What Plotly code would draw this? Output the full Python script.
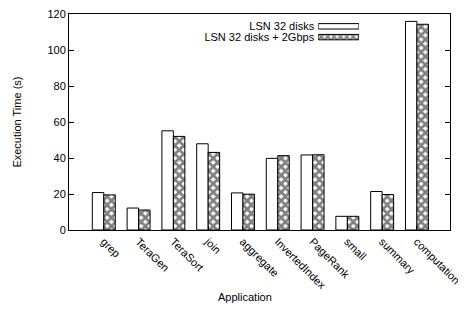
import plotly.graph_objects as go

apps = ["grep", "TeraGen", "TeraSort", "join", "aggregate", "InvertedIndex",
        "PageRank", "small", "summary", "computation"]
lsn32 = [20.8, 12.2, 55.1, 47.9, 20.6, 39.8, 41.7, 7.6, 21.4, 115.9]
lsn32_2g = [19.5, 11.1, 52.0, 43.1, 19.9, 41.3, 41.8, 7.6, 19.7, 114.3]
series_names = ["LSN 32 disks", "LSN 32 disks + 2Gbps"]
yticks = [0, 20, 40, 60, 80, 100, 120]

font = dict(family="Liberation Sans, Arial, sans-serif", size=11, color="black")
hatch = dict(shape="x", fgcolor="black", bgcolor="white", size=6, solidity=0.7)

fig = go.Figure()
fig.add_trace(go.Bar(x=apps, y=lsn32, name=series_names[0], showlegend=False,
                     marker=dict(color="white", line=dict(color="black", width=1))))
fig.add_trace(go.Bar(x=apps, y=lsn32_2g, name=series_names[1], showlegend=False,
                     marker=dict(color="white", line=dict(color="black", width=1),
                                 pattern=hatch)))

# legend drawn as a tiny horizontal bar chart: labels left, swatches right
fig.add_trace(go.Bar(y=series_names, x=[1, 1], orientation="h", width=0.5,
                     xaxis="x2", yaxis="y2", showlegend=False, hoverinfo="skip",
                     marker=dict(color="white", line=dict(color="black", width=1),
                                 pattern=dict(shape=["", "x"], fgcolor="black",
                                              bgcolor="white", size=4.5, solidity=0.7))))

fig.update_layout(
    width=466, height=332,
    margin=dict(l=61, r=24, t=6, b=110),
    paper_bgcolor="white", plot_bgcolor="white",
    font=font,
    barmode="group", bargap=0.34, bargroupgap=0,
    xaxis=dict(range=[-1.0, 9.95], tickangle=45, showline=True, linecolor="black",
               linewidth=1, mirror=True, ticks="inside", ticklen=4, tickcolor="black",
               showgrid=False, automargin=False, tickfont=font),
    yaxis=dict(range=[0, 120], tickvals=yticks, showline=True, linecolor="black",
               linewidth=1, mirror="ticks", ticks="inside", ticklen=5, tickcolor="black",
               showgrid=False, zeroline=False, automargin=False, tickfont=font,
               ticklabeloverflow="allow"),
    xaxis2=dict(domain=[0.654, 0.761], range=[0, 1], anchor="y2", showline=False,
                showgrid=False, zeroline=False, showticklabels=False, fixedrange=True),
    yaxis2=dict(domain=[0.868, 0.968], range=[1.5, -0.5], anchor="x2", type="category",
                tickmode="array", tickvals=series_names, ticktext=series_names,
                showline=False, showgrid=False, zeroline=False, ticks="",
                tickfont=font, ticklabelstandoff=3, automargin=False, fixedrange=True),
    annotations=[
        dict(text="Application", xref="paper", yref="paper", x=0.462, y=-0.31,
             xanchor="center", yanchor="middle", showarrow=False, font=font),
        dict(text="Execution Time (s)", xref="paper", yref="paper", x=-0.136, y=0.498,
             xanchor="center", yanchor="middle", textangle=-90, showarrow=False, font=font),
    ],
)

fig.write_html("out.html")
